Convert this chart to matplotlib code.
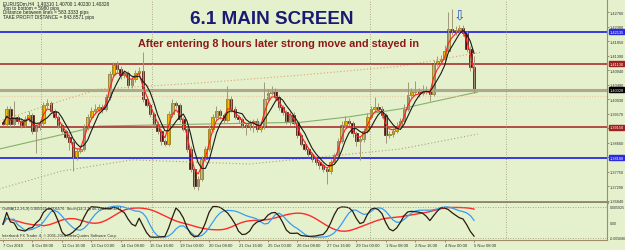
import matplotlib.pyplot as plt
import numpy as np
import pandas as pd

plt.rcParams['font.family'] = ['Liberation Sans', 'DejaVu Sans']

# EURUSD H4, 7 Oct 2010 .. 5 Nov 2010 08:00 (closes)
close = [
    1.3925, 1.3972, 1.3925, 1.3947, 1.3934, 1.3921, 1.3940, 1.3953, 1.3903, 1.3915,
    1.3928, 1.3984, 1.3990, 1.3965, 1.3947, 1.3921, 1.3903, 1.3884, 1.3868, 1.3821,
    1.3840, 1.3846, 1.3915, 1.3947, 1.3965, 1.3972, 1.3978, 1.3972, 1.4009, 1.4081,
    1.4110, 1.4097, 1.4078, 1.4085, 1.4047, 1.4066, 1.4085, 1.4091, 1.4003, 1.3984,
    1.3956, 1.3925, 1.3903, 1.3871, 1.3862, 1.3956, 1.3990, 1.3984, 1.3940, 1.3909,
    1.3846, 1.3783, 1.3730, 1.3752, 1.3815, 1.3846, 1.3909, 1.3947, 1.3965, 1.3953,
    1.3937, 1.4003, 1.3972, 1.3947, 1.3940, 1.3921, 1.3915, 1.3928, 1.3934, 1.3909,
    1.3915, 1.4003, 1.4022, 1.4028, 1.4009, 1.3978, 1.3962, 1.3934, 1.3953, 1.3928,
    1.3890, 1.3862, 1.3846, 1.3830, 1.3815, 1.3805, 1.3796, 1.3783, 1.3777, 1.3805,
    1.3827, 1.3871, 1.3921, 1.3934, 1.3928, 1.3896, 1.3871, 1.3877, 1.3903, 1.3947,
    1.3972, 1.3978, 1.3972, 1.3953, 1.3890, 1.3893, 1.3903, 1.3918, 1.3934, 1.3972,
    1.4016, 1.4025, 1.4028, 1.4022, 1.4031, 1.4028, 1.4019, 1.4116, 1.4122, 1.4129,
    1.4154, 1.4223, 1.4213, 1.4220, 1.4226, 1.4210, 1.4160, 1.4103, 1.40328,
]
first_open = 1.3930
# wick lengths in pips
upper_wick = [
    6, 8, 10, 50, 6, 8, 10, 12, 6, 8, 6, 10, 12, 8, 6, 6, 8, 6, 10, 6,
    8, 12, 10, 8, 12, 15, 10, 8, 10, 10, 10, 12, 8, 10, 6, 10, 8, 12, 60, 8,
    6, 6, 8, 6, 6, 10, 12, 8, 6, 6, 6, 8, 6, 10, 8, 10, 12, 10, 15, 8,
    6, 40, 10, 8, 6, 6, 8, 10, 6, 8, 6, 53, 12, 15, 10, 8, 6, 8, 10, 8,
    6, 6, 8, 6, 6, 8, 6, 6, 8, 10, 8, 10, 12, 15, 8, 6, 8, 10, 8, 12,
    10, 30, 12, 8, 6, 10, 8, 12, 10, 15, 40, 12, 30, 10, 15, 12, 8, 10, 15, 12,
    20, 53, 63, 12, 10, 8, 6, 8, 35,
]
lower_wick = [
    8, 6, 10, 8, 10, 8, 6, 8, 10, 70, 8, 6, 8, 6, 8, 10, 6, 8, 25, 44,
    10, 8, 6, 8, 6, 8, 10, 12, 6, 8, 8, 10, 12, 8, 10, 8, 10, 6, 8, 6,
    8, 6, 10, 12, 8, 6, 8, 10, 8, 6, 10, 8, 10, 12, 6, 8, 6, 8, 10, 12,
    8, 6, 10, 8, 12, 10, 25, 8, 30, 10, 8, 6, 8, 6, 8, 10, 8, 10, 12, 8,
    10, 8, 6, 8, 10, 8, 12, 10, 40, 8, 6, 8, 6, 8, 10, 12, 15, 60, 8, 6,
    8, 6, 8, 10, 25, 8, 10, 6, 8, 6, 6, 8, 10, 12, 8, 10, 22, 6, 8, 6,
    8, 8, 10, 8, 10, 8, 10, 12, 10,
]

time_labels = ['7 Oct 2010', '8 Oct 08:00', '11 Oct 16:00', '13 Oct 00:00', '14 Oct 08:00',
               '15 Oct 16:00', '19 Oct 00:00', '20 Oct 08:00', '21 Oct 16:00', '25 Oct 00:00',
               '26 Oct 08:00', '27 Oct 16:00', '29 Oct 00:00', '1 Nov 08:00', '2 Nov 16:00',
               '4 Nov 00:00', '5 Nov 08:00']
price_ticks = [1.42760, 1.42300, 1.41850, 1.41390, 1.40940, 1.40480, 1.40030, 1.39570,
               1.39120, 1.38660, 1.38210, 1.37750, 1.37290, 1.36840]

# horizontal line objects
blue_lines = [1.42135, 1.38180]
red_lines = [1.41130, 1.39150]
bid_price = 1.40328
dotted_level = 1.40130

# long envelope lines (candle index, price)
green_x = [-1, 26, 53, 81, 94, 108, 129]
green_y = [1.3846, 1.3918, 1.3924, 1.3930, 1.3947, 1.3972, 1.4025]
upper_x = [-1, 13, 26, 53, 81, 108, 130]
upper_y = [1.3934, 1.3987, 1.4034, 1.4053, 1.4078, 1.4106, 1.4150]
lower_x = [-1, 16, 35, 67, 108, 129]
lower_y = [1.3721, 1.3777, 1.3812, 1.3799, 1.3846, 1.3893]

W, H = 625, 251
bg = '#e4f1cc'
fig = plt.figure(figsize=(W / 100, H / 100), dpi=100, facecolor=bg)
ax = fig.add_axes([0, 48 / H, 607 / W, 203 / H], facecolor=bg)
ax2 = fig.add_axes([0, 10 / H, 607 / W, 37 / H], facecolor=bg)

c = np.array(close)
o = np.concatenate([[first_open], c[:-1]])
hi = np.maximum(o, c) + np.array(upper_wick) * 0.0001
lo = np.minimum(o, c) - np.array(lower_wick) * 0.0001
x = np.arange(len(c))

# envelopes / levels
ax.plot(green_x, green_y, color='#86b06a', lw=0.8)
ax.plot(upper_x, upper_y, color='#e0a070', lw=0.8, ls=(0, (1, 2)))
ax.plot(lower_x, lower_y, color='#b0a080', lw=0.8, ls=(0, (1, 2)))
for p in blue_lines:
    ax.axhline(p, color='#2a2ae0', lw=1.3)
for p in red_lines:
    ax.axhline(p, color='#a83030', lw=1.2)
ax.axhline(bid_price, color='#b0a888', lw=2.2)
ax.axhline(dotted_level, color='#f0c8a0', lw=0.8, ls=(0, (1, 1.5)))
for v in [10.3, 40.5, 99.7, 136.7]:
    ax.axvline(v, color='#a09070', lw=0.6, ls=(0, (1, 2)))
    ax2.axvline(v, color='#a09070', lw=0.6, ls=(0, (1, 2)))

# candles
ax.vlines(x, lo, hi, color='#a09878', lw=0.7)
up = c >= o
ax.bar(x[up], (c - o)[up], bottom=o[up], width=0.7, color='#f2c200', edgecolor='#6a4a00', lw=0.4)
ax.bar(x[~up], (o - c)[~up], bottom=c[~up], width=0.7, color='#5a0c0c', edgecolor='#3a0000', lw=0.4)

# moving averages
s = pd.Series(c)
ax.plot(x, s.ewm(span=3, adjust=False).mean(), color='#ff2020', lw=0.8)
ax.plot(x, s.rolling(5, min_periods=1).mean(), color='#1a1a1a', lw=0.8)

# price labels on the axis (boxes hide the tick labels under them)
marked = [(blue_lines[0], '#2a2ae0'), (red_lines[0], '#a02020'), (bid_price, '#000000'),
          (red_lines[1], '#a02020'), (blue_lines[1], '#2a2ae0')]
tick_text = []
for p in price_ticks:
    covered = any(abs(p - m) < 0.0012 for m, _ in marked)
    tick_text.append('' if covered else '%.5f' % p)

ax.set_xlim(-0.815, 164.13)
ax.set_ylim(1.36798, 1.43168)
ax.set_xticks([])
ax.yaxis.tick_right()
ax.set_yticks(price_ticks)
ax.set_yticklabels(tick_text, fontsize=2.8, color='#303030')
ax.tick_params(axis='y', length=1.5, width=0.5, pad=0.6, color='#806040')
for sp in ['top', 'left']:
    ax.spines[sp].set_visible(False)
ax.spines['right'].set_color('#a08c68')
ax.spines['bottom'].set_color('#8c8670')
ax.spines['bottom'].set_linewidth(2)

for p, col in marked:
    ax.text(1.004, p, '%.5f' % p, transform=ax.get_yaxis_transform(), fontsize=2.8,
            color='white', va='center', ha='left',
            bbox=dict(boxstyle='square,pad=0.12', fc=col, ec=col))

# stochastic window
def stoch(k, slow):
    ll = pd.Series(lo).rolling(k, min_periods=1).min()
    hh = pd.Series(hi).rolling(k, min_periods=1).max()
    num = (s - ll).rolling(slow, min_periods=1).sum()
    den = (hh - ll).rolling(slow, min_periods=1).sum()
    return 100 * num / den

black = stoch(5, 3)
blue = stoch(14, 3).rolling(3, min_periods=1).mean()
red = stoch(30, 5).rolling(10, min_periods=1).mean()
ax2.plot(x, red, color='#ff2a2a', lw=1.0)
ax2.plot(x, blue, color='#3a9cf0', lw=0.9)
ax2.plot(x, black, color='#2a1a10', lw=0.9)
ax2.axhline(92, color='#a09070', lw=0.6, ls=(0, (1, 2)))
ax2.axhline(2, color='#a09070', lw=0.6, ls=(0, (1, 2)))
ax2.set_xlim(-0.815, 164.13)
ax2.set_ylim(-5, 105)
ax2.set_yticks([])
ax2.set_xticks(np.arange(len(time_labels)) * 8)
ax2.set_xticklabels(time_labels, fontsize=3.0, color='#303030', ha='left')
ax2.tick_params(axis='x', length=1.5, width=0.5, pad=1, color='#806040')
for sp in ['top', 'left']:
    ax2.spines[sp].set_visible(False)
ax2.spines['right'].set_color('#a08c68')
ax2.spines['bottom'].set_color('#a08c68')
for val, lab in [(92, '0.005925'), (45, '0.00'), (2, '-0.005686')]:
    ax2.text(1.004, val, lab, transform=ax2.get_yaxis_transform(), fontsize=2.6,
             color='#303030', va='center', ha='left')
ax2.text(0.004, 90, 'OsMA(12,26,9) 0.005925 0.006576  Stoch(14,3,3) 46.1701 58.3211',
         transform=ax2.get_yaxis_transform(), fontsize=2.9, color='#303030', va='center')
ax2.text(0.004, 10, 'Interbank FX Trader 4, \u00a9 2001-2010 MetaQuotes Software Corp.',
         transform=ax2.get_yaxis_transform(), fontsize=2.9, color='#303030', va='center')

# texts
header = ['EURUSDm,H4  1.40310 1.40700 1.40230 1.40328', 'Top to bottom = 5980 pips',
          'Distance between lines = 583.3333 pips', 'TAKE PROFIT DISTANCE = 843.8571 pips']
for k, t in enumerate(header):
    fig.text(3 / W, 1 - (3.5 + 4.7 * k) / H, t, fontsize=3.4, color='#202020', va='center')
fig.text(190 / W, 1 - 19 / H, '6.1 MAIN SCREEN', fontsize=13.6, fontweight='bold',
         color='#1a1a72', va='center')
fig.text(138 / W, 1 - 44 / H, 'After entering 8 hours later strong move and stayed in',
         fontsize=7.8, fontweight='bold', color='#8c1a1a', va='center')
ax.text(124, 1.4268, '\u21e9', fontsize=10, color='#3050c8', ha='center', va='center',
        family='DejaVu Sans')

fig.savefig('out.png', dpi=100, facecolor=bg)
